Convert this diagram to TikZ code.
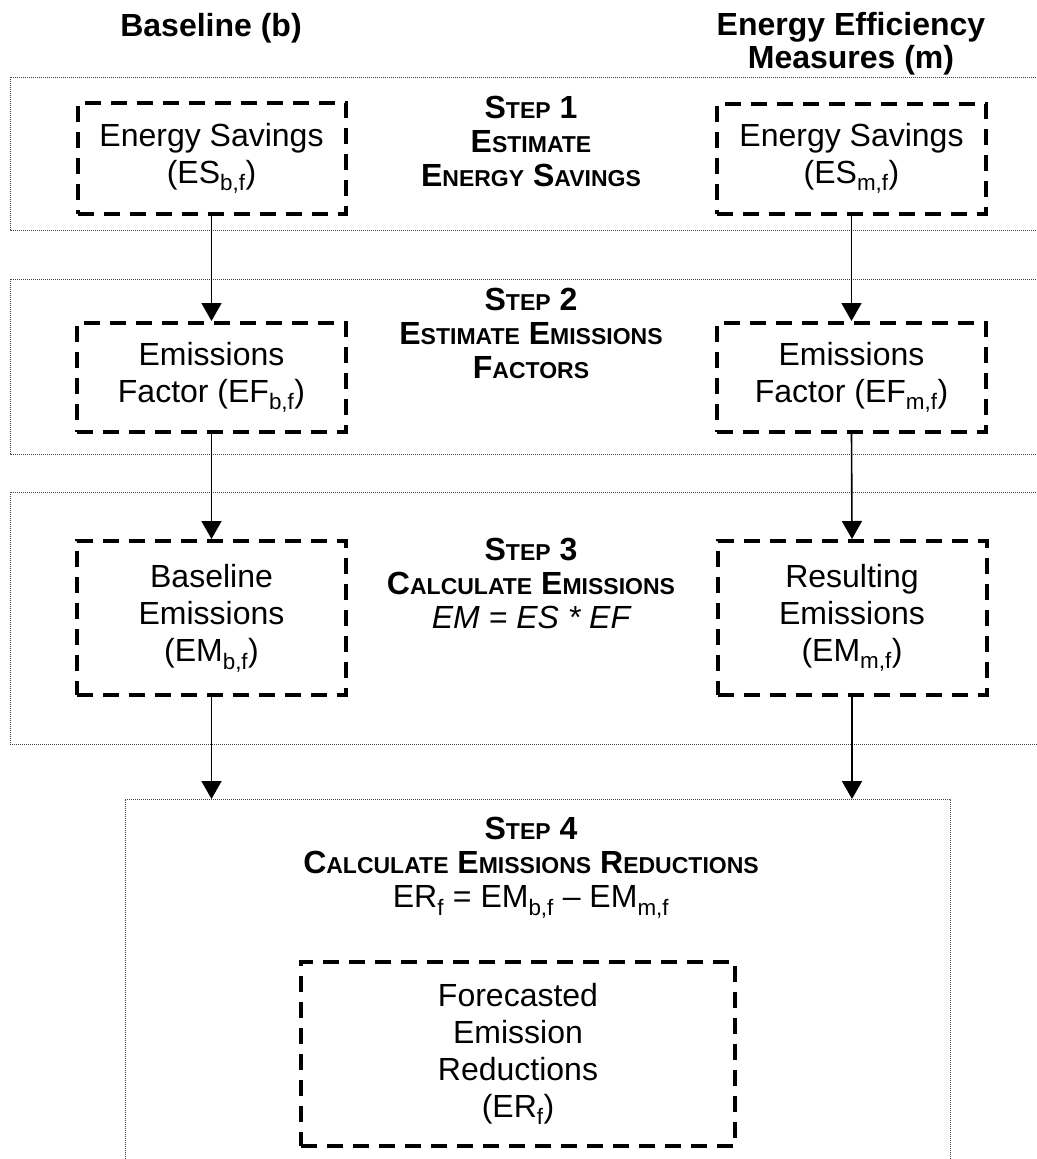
\documentclass[tikz,border=0pt]{standalone}
\usepackage{fontspec}
\setmainfont{Liberation Sans}
\usetikzlibrary{arrows.meta}
\newcommand\fsc[2]{#1{\fontsize{23}{23}\selectfont #2}}
\begin{document}
\begin{tikzpicture}[x=1pt,y=-1pt,
  band/.style={draw=black!75, line width=1pt, dash pattern=on 1pt off 1pt},
  qbox/.style={draw, line width=4pt, dash pattern=on 16pt off 10pt, rectangle, align=center, inner sep=0pt, font=\fontsize{32}{37}\selectfont},
  steptext/.style={align=center, font=\bfseries\fontsize{32}{34}\selectfont},
  head/.style={align=center, font=\bfseries\fontsize{32}{33}\selectfont},
  arr/.style={line width=1.6pt, -{Triangle[width=20pt,length=18pt]}}
]
\useasboundingbox (0,0) rectangle (1036,1159);
% bands
\draw[band] (1040,77) -- (10,77) -- (10,230) -- (1040,230);
\draw[band] (1040,279) -- (10,279) -- (10,454) -- (1040,454);
\draw[band] (1040,492) -- (10,492) -- (10,744) -- (1040,744);
\draw[band] (125,1165) -- (125,799) -- (950,799) -- (950,1165);
% headers
\node[head] (hb) at (211,28) {Baseline (b)};
\node[head] (hm) at (851,44) {Energy Efficiency\\Measures (m)};
% boxes
\node[qbox, minimum width=268pt, minimum height=111pt] (lb1) at (211.5,158.5) {Energy Savings\\(ES\textsubscript{b,f})};
\node[qbox, minimum width=269pt, minimum height=110pt] (rb1) at (851.5,158.5) {Energy Savings\\(ES\textsubscript{m,f})};
\node[qbox, minimum width=269pt, minimum height=109pt] (lb2) at (211.5,377.5) {Emissions\\Factor (EF\textsubscript{b,f})};
\node[qbox, minimum width=269pt, minimum height=109pt] (rb2) at (851.5,377.5) {Emissions\\Factor (EF\textsubscript{m,f})};
\node[qbox, minimum width=269pt, minimum height=154pt] (lb3) at (211.5,618) {Baseline\\Emissions\\(EM\textsubscript{b,f})};
\node[qbox, minimum width=269pt, minimum height=154pt] (rb3) at (852,618) {Resulting\\Emissions\\(EM\textsubscript{m,f})};
\node[qbox, minimum width=434pt, minimum height=184pt] (fb) at (518,1054) {Forecasted\\Emission\\Reductions\\(ER\textsubscript{f})};
% step texts
\node[steptext] (s1) at (531,141) {\fsc{S}{TEP} 1\\\fsc{E}{STIMATE}\\\fsc{E}{NERGY} \fsc{S}{AVINGS}};
\node[steptext] (s2) at (531,333) {\fsc{S}{TEP} 2\\\fsc{E}{STIMATE} \fsc{E}{MISSIONS}\\\fsc{F}{ACTORS}};
\node[steptext] (s3) at (531,583) {\fsc{S}{TEP} 3\\\fsc{C}{ALCULATE} \fsc{E}{MISSIONS}\\{\mdseries\itshape EM = ES * EF}};
\node[steptext] (s4) at (531,868) {\fsc{S}{TEP} 4\\\fsc{C}{ALCULATE} \fsc{E}{MISSIONS} \fsc{R}{EDUCTIONS}\\{\mdseries ER\textsubscript{f} = EM\textsubscript{b,f} – EM\textsubscript{m,f}}};
% arrows
\coordinate (s4l) at (211.5,799);
\coordinate (s4r) at (852,799);
\draw[arr] (lb1.south) -- (lb2.north);
\draw[arr] (rb1.south) -- (rb2.north);
\draw[arr] (lb2.south) -- (lb3.north);
\draw[arr] (rb2.south) -- (rb3.north);
\draw[arr] (lb3.south) -- (s4l);
\draw[arr] (rb3.south) -- (s4r);
\end{tikzpicture}
\end{document}
